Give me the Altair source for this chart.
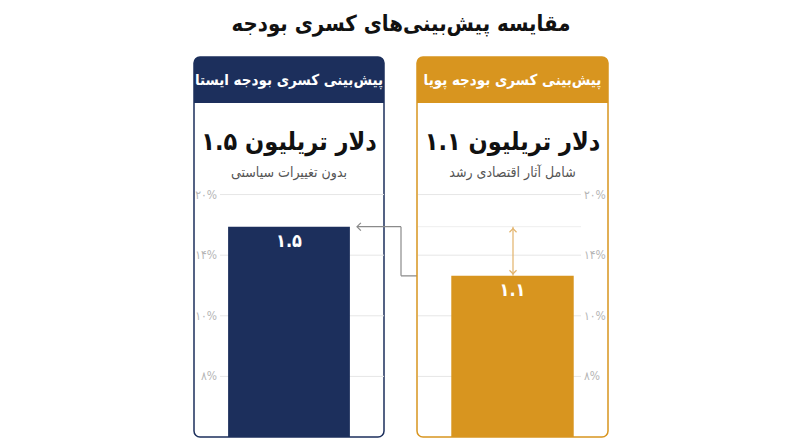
import altair as alt
import pandas as pd

# ---- data ----
title_text = "مقایسه پیش‌بینی‌های کسری بودجه"
panel_headers = ["پیش‌بینی کسری بودجه ایستا", "پیش‌بینی کسری بودجه پویا"]
panel_big = ["۱.۵ تریلیون دلار", "۱.۱ تریلیون دلار"]
panel_sub = ["بدون تغییرات سیاستی", "شامل آثار اقتصادی رشد"]
bar_labels = ["۱.۵", "۱.۱"]
# bar heights in grid units (one unit = distance between two grid lines)
bar_values = [3.47, 2.66]
tick_labels = ["۸%", "۱۰%", "۱۴%", "۲۰%"]
tick_levels = [1, 2, 3, 4]

NAVY = "#1c2f5c"
ORANGE = "#d8951f"
FONT = "DejaVu Sans Condensed"

W_L, W_R, H = 190, 191, 380
HEADER_H = 46
Y_TOP = 6.27

yscale = alt.Scale(domain=[0, Y_TOP], nice=False, zero=True)

ticks_df = pd.DataFrame({"level": tick_levels, "label": tick_labels})
levels_df = pd.DataFrame({"left": [bar_values[0]], "right": [bar_values[1]]})


def lr_words(s):
    # keep the number on the left, as in the reference layout
    return s.replace(" ", "\u200e ")


def panel(i, color, width, grid_x, grid_x2, label_x, label_align):
    bar_df = pd.DataFrame({"cat": [panel_headers[i]], "value": [bar_values[i]],
                           "label": [bar_labels[i]]})
    info_df = pd.DataFrame({"h": [panel_headers[i]], "big": [lr_words(panel_big[i])],
                            "sub": [panel_sub[i]]})
    base_info = alt.Chart(info_df)
    header = base_info.mark_rect(color=color, cornerRadiusTopLeft=6,
                                 cornerRadiusTopRight=6).encode(
        x=alt.value(0), x2=alt.value(width), y=alt.value(0), y2=alt.value(HEADER_H))
    header_t = base_info.mark_text(color="white", font=FONT, fontSize=15,
                                   fontWeight="bold", baseline="middle").encode(
        x=alt.value(width / 2), y=alt.value(HEADER_H / 2), text="h:N")
    big_t = base_info.mark_text(color="#111", font=FONT, fontSize=25,
                                fontWeight="bold", baseline="middle").encode(
        x=alt.value(width / 2), y=alt.value(85), text="big:N")
    sub_t = base_info.mark_text(color="#555", font=FONT, fontSize=14,
                                baseline="middle").encode(
        x=alt.value(width / 2), y=alt.value(116), text="sub:N")

    tk = alt.Chart(ticks_df)
    grid = tk.mark_rule(color="#e6e6e6", strokeWidth=1).encode(
        y=alt.Y("level:Q", scale=yscale, axis=None),
        x=alt.value(grid_x), x2=alt.value(grid_x2))
    tlab = tk.mark_text(color="#b5b5b5", font=FONT, fontSize=12, align=label_align,
                        baseline="middle").encode(
        y=alt.Y("level:Q", scale=yscale, axis=None),
        x=alt.value(label_x), text="label:N")

    b = alt.Chart(bar_df)
    xenc = alt.X("cat:N", axis=None,
                 scale=alt.Scale(paddingInner=0, paddingOuter=0.28))
    bar = b.mark_bar(color=color).encode(
        x=xenc, y=alt.Y("value:Q", scale=yscale, axis=None))
    blab = b.mark_text(color="white", font=FONT, fontSize=18, fontWeight="bold",
                       baseline="middle", dy=15).encode(
        x=xenc, y=alt.Y("value:Q", scale=yscale, axis=None), text="label:N")
    return [header, header_t, big_t, sub_t, grid, tlab, bar, blab]


# ---- left panel (static) ----
left_layers = panel(0, NAVY, W_L, 26, W_L, 23, "right")
lv = alt.Chart(levels_df)
GRAY = "#8a8a8a"
c1 = lv.mark_rule(color=GRAY, strokeWidth=1.2).encode(
    y=alt.Y("left:Q", scale=yscale, axis=None), x=alt.value(163), x2=alt.value(207))
c2 = lv.mark_rule(color=GRAY, strokeWidth=1.2).encode(
    y=alt.Y("left:Q", scale=yscale, axis=None), y2="right:Q", x=alt.value(207))
c3 = lv.mark_rule(color=GRAY, strokeWidth=1.2).encode(
    y=alt.Y("right:Q", scale=yscale, axis=None), x=alt.value(207), x2=alt.value(250))
a1 = lv.mark_point(shape="M 1 -1 L 0 0 L 1 1", filled=False, color=GRAY, size=60,
                   strokeWidth=1.2, opacity=1).encode(
    y=alt.Y("left:Q", scale=yscale, axis=None), x=alt.value(163))
a2 = lv.mark_point(shape="M -1 -1 L 0 0 L -1 1", filled=False, color=GRAY, size=60,
                   strokeWidth=1.2, opacity=1).encode(
    y=alt.Y("right:Q", scale=yscale, axis=None), x=alt.value(250))
left = alt.layer(*left_layers, c1, c2, c3, a1, a2).properties(
    width=W_L, height=H,
    view=alt.ViewBackground(stroke=NAVY, strokeWidth=1.5, cornerRadius=6, fill="white"))

# ---- right panel (dynamic) ----
right_layers = panel(1, ORANGE, W_R, 1, 164, 167, "left")
LORANGE = "#e2b36a"
ref = lv.mark_rule(color="#eeeeee", strokeWidth=1).encode(
    y=alt.Y("left:Q", scale=yscale, axis=None), x=alt.value(1), x2=alt.value(164))
dv = lv.mark_rule(color=LORANGE, strokeWidth=1.2).encode(
    y=alt.Y("left:Q", scale=yscale, axis=None), y2="right:Q", x=alt.value(96))
up = lv.mark_point(shape="M -1 1 L 0 0 L 1 1", filled=False, color=LORANGE, size=50,
                   strokeWidth=1.2, opacity=1, yOffset=2).encode(
    y=alt.Y("left:Q", scale=yscale, axis=None), x=alt.value(96))
dn = lv.mark_point(shape="M -1 -1 L 0 0 L 1 -1", filled=False, color=LORANGE, size=50,
                   strokeWidth=1.2, opacity=1, yOffset=-2).encode(
    y=alt.Y("right:Q", scale=yscale, axis=None), x=alt.value(96))
right_layers.insert(6, ref)
right = alt.layer(*right_layers, dv, up, dn).properties(
    width=W_R, height=H,
    view=alt.ViewBackground(stroke=ORANGE, strokeWidth=1.5, cornerRadius=6, fill="white"))

chart = alt.hconcat(left, right, spacing=33, bounds="flush").properties(
    title=alt.TitleParams(title_text, font=FONT, fontSize=22, fontWeight="bold",
                          color="#111", anchor="middle", offset=20),
    padding={"left": 185, "top": 5, "right": 5, "bottom": 5},
).resolve_scale(x="independent")

chart.save("out.html", embed_options={"renderer": "svg", "actions": False})
